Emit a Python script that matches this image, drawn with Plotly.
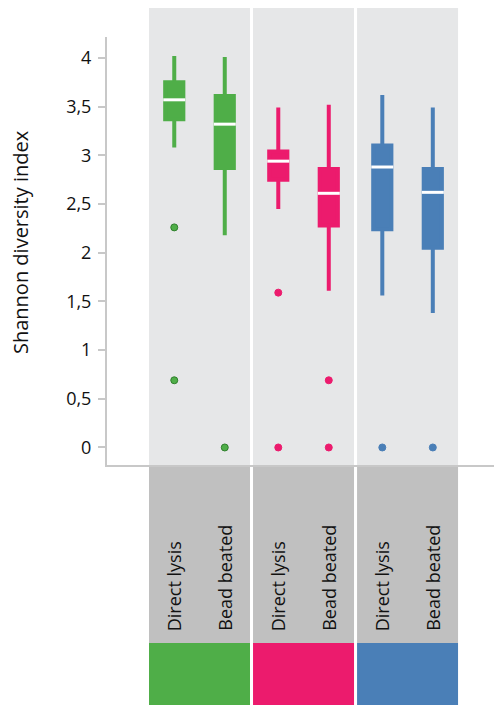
import plotly.graph_objects as go

# ---------------- data ----------------
groups = ["Group A", "Group B", "Group C"]
methods = ["Direct lysis", "Bead beated"]
colors = ["#4fae48", "#ec1b6d", "#4a7fb7"]
outlier_edge = ["#2f7f2c", "#ec1b6d", "#4a7fb7"]

# order: A-direct, A-bead, B-direct, B-bead, C-direct, C-bead
upper_fence = [4.02, 4.01, 3.49, 3.52, 3.62, 3.49]
q3_values   = [3.75, 3.61, 3.04, 2.86, 3.10, 2.86]
medians     = [3.57, 3.32, 2.94, 2.61, 2.88, 2.62]
q1_values   = [3.37, 2.87, 2.75, 2.28, 2.24, 2.05]
lower_fence = [3.08, 2.18, 2.45, 1.61, 1.56, 1.38]
outliers    = [[2.26, 0.69], [0.0], [1.59, 0.0], [0.69, 0.0], [0.0], [0.0]]

y_tickvals = [0, 0.5, 1, 1.5, 2, 2.5, 3, 3.5, 4]
y_title = "Shannon diversity index"

# ---------------- layout constants ----------------
group_step = 2.06
positions = [g * group_step + m for g in range(len(groups)) for m in range(len(methods))]
box_w = 0.36      # inner box width (data units)
line_w = 4
median_half = 0.218

fig = go.Figure()

# background panels + label strips + colour bars
for g in range(len(groups)):
    x0 = g * group_step - 0.5
    x1 = g * group_step + 1.5
    fig.add_shape(type="rect", xref="x", yref="paper", x0=x0, x1=x1, y0=0, y1=1.068,
                  fillcolor="#e6e7e8", line_width=0, layer="below")
    fig.add_shape(type="rect", xref="x", yref="paper", x0=x0, x1=x1, y0=-0.416, y1=-0.003,
                  fillcolor="#c0c0c0", line_width=0, layer="below")
    fig.add_shape(type="rect", xref="x", yref="paper", x0=x0, x1=x1, y0=-0.561, y1=-0.416,
                  fillcolor=colors[g], line_width=0, layer="below")

for i, pos in enumerate(positions):
    g = i // 2
    c = colors[g]
    fig.add_trace(go.Box(
        x=[pos], q1=[q1_values[i]], median=[medians[i]], q3=[q3_values[i]],
        lowerfence=[lower_fence[i]], upperfence=[upper_fence[i]],
        width=box_w, whiskerwidth=0, fillcolor=c,
        line=dict(color=c, width=line_w), boxpoints=False,
        showlegend=False, hoverinfo="skip",
    ))
    fig.add_trace(go.Scatter(
        x=[pos - median_half, pos + median_half], y=[medians[i], medians[i]],
        mode="lines", line=dict(color="white", width=3),
        showlegend=False, hoverinfo="skip",
    ))
    fig.add_trace(go.Scatter(
        x=[pos] * len(outliers[i]), y=outliers[i], mode="markers",
        marker=dict(color=c, size=7, line=dict(color=outlier_edge[g], width=1)),
        showlegend=False, hoverinfo="skip",
    ))
    fig.add_annotation(
        x=pos, xref="x", y=-0.3925, yref="paper", text=methods[i % 2],
        textangle=-90, showarrow=False, xanchor="center", yanchor="bottom",
        font=dict(family="Open Sans", size=18, color="#111111"),
    )

fig.add_annotation(
    x=-0.2248, xref="paper", y=0.521, yref="paper", text=y_title,
    textangle=-90, showarrow=False, xanchor="center", yanchor="middle",
    font=dict(family="Open Sans", size=20, color="#111111"),
)

# page body adds an 8px margin, so the figure is sized/offset to compensate
fig.update_layout(
    width=496, height=706,
    margin=dict(l=99, r=10, t=29, b=249),
    paper_bgcolor="white", plot_bgcolor="rgba(0,0,0,0)",
    separators=",.",
    font=dict(family="Open Sans", color="#111111"),
    showlegend=False,
)
fig.update_xaxes(
    range=[-1.332, 6.332], showgrid=False, zeroline=False,
    showticklabels=False, ticks="", showline=True, linecolor="#c8c8c8", linewidth=2,
)
fig.update_yaxes(
    range=[-0.18, 4.215], tickvals=y_tickvals, showgrid=False, zeroline=False,
    showline=True, linecolor="#c8c8c8", linewidth=2,
    ticks="outside", ticklen=7, tickwidth=2, tickcolor="#c8c8c8",
    tickfont=dict(family="Open Sans", size=18, color="#111111"),
    ticklabelstandoff=3,
)

fig.write_html("out.html")
